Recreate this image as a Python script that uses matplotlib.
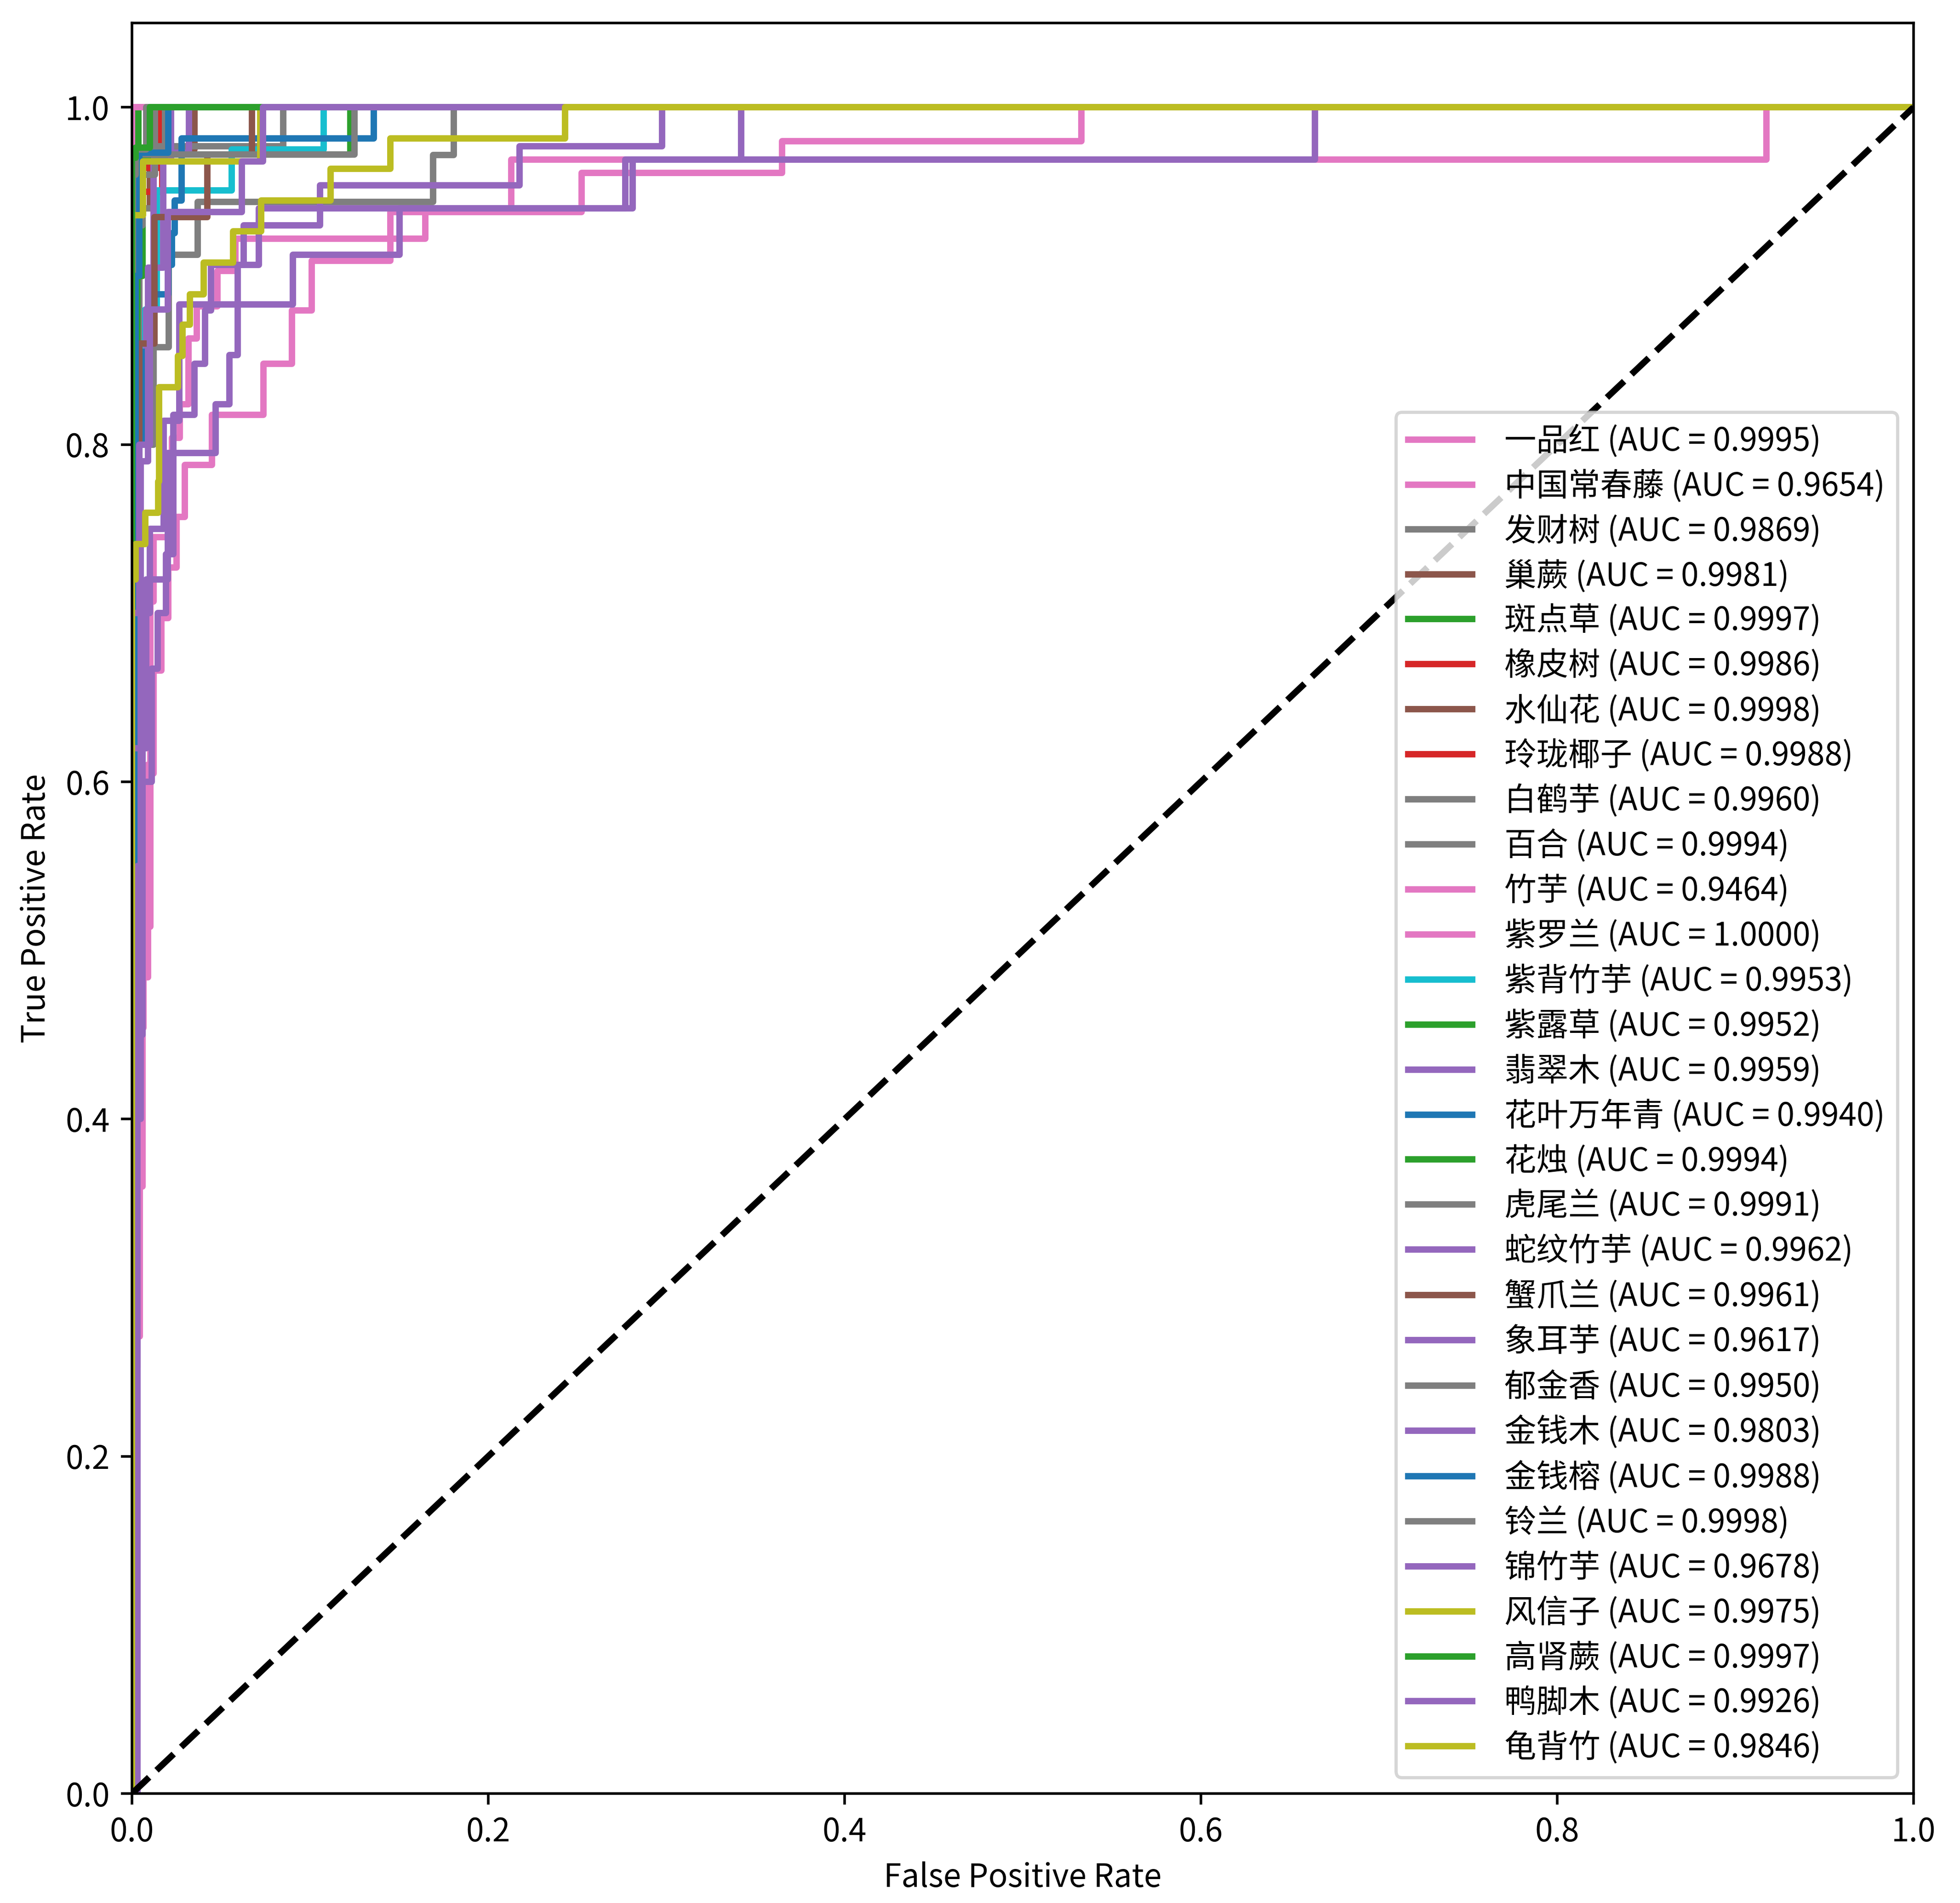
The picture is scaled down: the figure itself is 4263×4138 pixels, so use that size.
import matplotlib
matplotlib.use('Agg')
import matplotlib.pyplot as plt

# ===== 클래스 / AUC / 색 =====
CLASS_NAMES = ['一品红', '中国常春藤', '发财树', '巢蕨', '斑点草', '橡皮树', '水仙花', '玲珑椰子',
               '白鹤芋', '百合', '竹芋', '紫罗兰', '紫背竹芋', '紫露草', '翡翠木', '花叶万年青',
               '花烛', '虎尾兰', '蛇纹竹芋', '蟹爪兰', '象耳芋', '郁金香', '金钱木', '金钱榕',
               '铃兰', '锦竹芋', '风信子', '高肾蕨', '鸭脚木', '龟背竹']
AUC_VALUES = [0.9995, 0.9654, 0.9869, 0.9981, 0.9997, 0.9986, 0.9998, 0.9988,
              0.9960, 0.9994, 0.9464, 1.0000, 0.9953, 0.9952, 0.9959, 0.9940,
              0.9994, 0.9991, 0.9962, 0.9961, 0.9617, 0.9950, 0.9803, 0.9988,
              0.9998, 0.9678, 0.9975, 0.9997, 0.9926, 0.9846]
COLORS = ['tab:pink', 'tab:pink', 'tab:gray', 'tab:brown', 'tab:green', 'tab:red', 'tab:brown', 'tab:red',
          'tab:gray', 'tab:gray', 'tab:pink', 'tab:pink', 'tab:cyan', 'tab:green', 'tab:purple', 'tab:blue',
          'tab:green', 'tab:gray', 'tab:purple', 'tab:brown', 'tab:purple', 'tab:gray', 'tab:purple', 'tab:blue',
          'tab:gray', 'tab:purple', 'tab:olive', 'tab:green', 'tab:purple', 'tab:olive']

# ===== ROC 계단 (fpr 에서 tpr 로 상승) =====
fpr_01 = [0, 0, 0.0015, 1]                                   # 一品红
tpr_01 = [0, 0.70, 1.0, 1.0]
fpr_02 = [0, 0, 0.0045, 0.0058, 0.0065, 0.009, 0.0103, 0.0121, 0.0165, 0.0204, 0.025,
          0.0297, 0.045, 0.0738, 0.0898, 0.101, 0.145, 0.2525, 0.365, 0.533, 1]   # 中国常春藤
tpr_02 = [0, 0.271, 0.424, 0.454, 0.484, 0.514, 0.605, 0.666, 0.697, 0.727, 0.757,
          0.788, 0.8177, 0.848, 0.8795, 0.909, 0.938, 0.961, 0.980, 1.0, 1.0]
fpr_03 = [0, 0, 0.004, 0.012, 0.0206, 0.037, 0.169, 0.1806, 1]   # 发财树
tpr_03 = [0, 0.60, 0.80, 0.8577, 0.9126, 0.944, 0.9716, 1.0, 1.0]
fpr_04 = [0, 0, 0.003, 0.01, 0.035, 1]                        # 巢蕨
tpr_04 = [0, 0.90, 0.94, 0.975, 1.0, 1.0]
fpr_05 = [0, 0, 0.0035, 1]                                    # 斑点草
tpr_05 = [0, 0.93, 1.0, 1.0]
fpr_06 = [0, 0, 0.003, 0.0155, 1]                             # 橡皮树
tpr_06 = [0, 0.85, 0.964, 1.0, 1.0]
fpr_07 = [0, 0, 0.009, 1]                                     # 水仙花
tpr_07 = [0, 0.975, 1.0, 1.0]
fpr_08 = [0, 0, 0.005, 0.017, 1]                              # 玲珑椰子
tpr_08 = [0, 0.90, 0.95, 1.0, 1.0]
fpr_09 = [0, 0, 0.004, 0.012, 0.085, 1]                       # 白鹤芋
tpr_09 = [0, 0.85, 0.94, 0.977, 1.0, 1.0]
fpr_10 = [0, 0, 0.004, 0.0186, 1]                             # 百合
tpr_10 = [0, 0.88, 0.97, 1.0, 1.0]
fpr_11 = [0, 0, 0.003, 0.006, 0.0075, 0.0087, 0.0103, 0.0122, 0.0225, 0.0268,
          0.0318, 0.0364, 0.048, 0.058, 0.1646, 0.213, 0.9175, 1]           # 竹芋
tpr_11 = [0, 0.253, 0.36, 0.49, 0.544, 0.61, 0.707, 0.745, 0.804, 0.824,
          0.863, 0.882, 0.903, 0.922, 0.940, 0.969, 1.0, 1.0]
fpr_12 = [0, 0, 1]                                            # 紫罗兰
tpr_12 = [0, 1.0, 1.0]
fpr_13 = [0, 0, 0.002, 0.0075, 0.014, 0.0561, 0.1075, 1]      # 紫背竹芋
tpr_13 = [0, 0.60, 0.82, 0.88, 0.9506, 0.975, 1.0, 1.0]
fpr_14 = [0, 0, 0.003, 0.006, 0.1226, 1]                      # 紫露草
tpr_14 = [0, 0.60, 0.90, 0.972, 1.0, 1.0]
fpr_15 = [0, 0, 0.003, 0.008, 0.012, 0.032, 1]                # 翡翠木
tpr_15 = [0, 0.55, 0.80, 0.88, 0.973, 1.0, 1.0]
fpr_16 = [0, 0, 0.003, 0.006, 0.01, 0.0203, 0.0225, 0.0239, 0.0279, 0.1357, 1]  # 花叶万年青
tpr_16 = [0, 0.55, 0.80, 0.855, 0.889, 0.9065, 0.9255, 0.9446, 0.9815, 1.0, 1.0]
fpr_17 = [0, 0, 0.0055, 0.009, 1]                             # 花烛
tpr_17 = [0, 0.90, 0.968, 1.0, 1.0]
fpr_18 = [0, 0, 0.006, 0.013, 1]                              # 虎尾兰
tpr_18 = [0, 0.93, 0.96, 1.0, 1.0]
fpr_19 = [0, 0, 0.005, 0.009, 0.0175, 0.022, 1]               # 蛇纹竹芋
tpr_19 = [0, 0.62, 0.79, 0.905, 0.968, 1.0, 1.0]
fpr_20 = [0, 0, 0.004, 0.0127, 0.0423, 0.0674, 1]             # 蟹爪兰
tpr_20 = [0, 0.80, 0.86, 0.935, 0.972, 1.0, 1.0]
fpr_21 = [0, 0.003, 0.006, 0.01, 0.0178, 0.0266, 0.0903, 0.1503, 0.277, 0.664, 1]  # 象耳芋
tpr_21 = [0, 0.55, 0.70, 0.75, 0.814, 0.883, 0.9125, 0.94, 0.969, 1.0, 1.0]
fpr_22 = [0, 0, 0.002, 0.125, 1]                              # 郁金香
tpr_22 = [0, 0.90, 0.972, 1.0, 1.0]
fpr_23 = [0, 0.002, 0.006, 0.011, 0.0145, 0.019, 0.0232, 0.035, 0.041, 0.0443,
          0.0627, 0.1055, 0.2175, 0.2975, 1]                                # 金钱木
tpr_23 = [0, 0.45, 0.60, 0.667, 0.70, 0.735, 0.8177, 0.848, 0.8795, 0.9065,
          0.930, 0.9536, 0.977, 1.0, 1.0]
fpr_24 = [0, 0, 0.002, 0.004, 0.0203, 1]                      # 金钱榕
tpr_24 = [0, 0.80, 0.90, 0.973, 1.0, 1.0]
fpr_25 = [0, 0, 0.002, 0.008, 1]                              # 铃兰
tpr_25 = [0, 0.96, 0.975, 1.0, 1.0]
fpr_26 = [0, 0.002, 0.005, 0.008, 0.02, 0.047, 0.0547, 0.0594, 0.0713, 0.281, 0.342, 1]  # 锦竹芋
tpr_26 = [0, 0.40, 0.62, 0.72, 0.795, 0.824, 0.853, 0.9065, 0.94, 0.969, 1.0, 1.0]
fpr_27 = [0, 0, 0.0062, 0.072, 1]                             # 风信子
tpr_27 = [0, 0.936, 0.968, 1.0, 1.0]
fpr_28 = [0, 0, 0.002, 0.01, 1]                               # 高肾蕨
tpr_28 = [0, 0.97, 0.976, 1.0, 1.0]
fpr_29 = [0, 0, 0.004, 0.01, 0.02, 0.0616, 0.0735, 1]         # 鸭脚木
tpr_29 = [0, 0.70, 0.80, 0.88, 0.938, 0.968, 1.0, 1.0]
fpr_30 = [0, 0, 0.002, 0.0075, 0.0147, 0.0153, 0.0258, 0.0284, 0.0325, 0.0403,
          0.0568, 0.0725, 0.1115, 0.145, 0.243, 1]                          # 龟背竹
tpr_30 = [0, 0.72, 0.741, 0.7595, 0.778, 0.834, 0.8525, 0.871, 0.889, 0.908,
          0.9264, 0.9446, 0.9635, 0.9815, 1.0, 1.0]

CURVES = [(fpr_01, tpr_01), (fpr_02, tpr_02), (fpr_03, tpr_03), (fpr_04, tpr_04), (fpr_05, tpr_05),
          (fpr_06, tpr_06), (fpr_07, tpr_07), (fpr_08, tpr_08), (fpr_09, tpr_09), (fpr_10, tpr_10),
          (fpr_11, tpr_11), (fpr_12, tpr_12), (fpr_13, tpr_13), (fpr_14, tpr_14), (fpr_15, tpr_15),
          (fpr_16, tpr_16), (fpr_17, tpr_17), (fpr_18, tpr_18), (fpr_19, tpr_19), (fpr_20, tpr_20),
          (fpr_21, tpr_21), (fpr_22, tpr_22), (fpr_23, tpr_23), (fpr_24, tpr_24), (fpr_25, tpr_25),
          (fpr_26, tpr_26), (fpr_27, tpr_27), (fpr_28, tpr_28), (fpr_29, tpr_29), (fpr_30, tpr_30)]

# 원본은 SimHei (없음) -> Noto Sans CJK SC 로 대체
plt.rcParams['font.family'] = ['Noto Sans CJK SC', 'DejaVu Sans']
plt.rcParams['axes.unicode_minus'] = False

W, H, DPI = 4263, 4138, 500
fig = plt.figure(figsize=(W / DPI, H / DPI), dpi=DPI)
ax = fig.add_axes([287 / W, (H - 3900) / H, 3875 / W, 3850 / H])

for (fpr, tpr), name, auc, color in zip(CURVES, CLASS_NAMES, AUC_VALUES, COLORS):
    ax.plot(fpr, tpr, drawstyle='steps-post', color=color, lw=2,
            label=f'{name} (AUC = {auc:.4f})')

ax.plot([0, 1], [0, 1], 'k--', lw=2)
ax.set_xlim([0.0, 1.0])
ax.set_ylim([0.0, 1.05])
ax.set_xlabel('False Positive Rate')
ax.set_ylabel('True Positive Rate')
ax.legend(loc='lower right', labelspacing=0.37, handletextpad=1.0)

fig.savefig('out.png', dpi=DPI)
plt.close(fig)
